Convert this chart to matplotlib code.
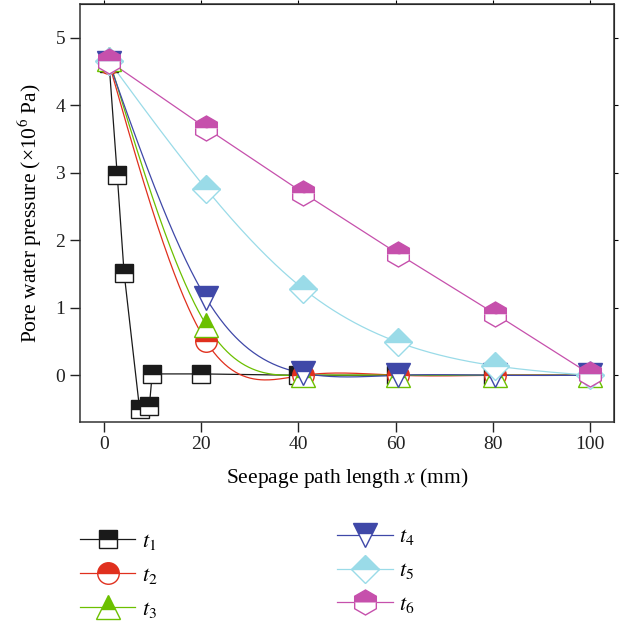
import numpy as np
import matplotlib
matplotlib.use("Agg")
import matplotlib.pyplot as plt
from matplotlib.lines import Line2D

plt.rcParams["font.family"] = ["Liberation Serif", "DejaVu Serif"]
plt.rcParams["mathtext.fontset"] = "stix"

# pore water pressure (x10^6 Pa) along the seepage path, one series per time step
x_t1 = [1, 2.7, 4.1, 7.3, 9.3, 9.9, 20, 40, 60, 80, 100]
p_t1 = [4.63, 2.96, 1.52, -0.50, -0.46, 0.02, 0.02, 0.0, 0.0, 0.0, 0.0]
x_rest = [1, 21, 41, 60.5, 80.5, 100]
p_t2 = [4.62, 0.50, 0.0, 0.0, 0.0, 0.0]
p_t3 = [4.68, 0.75, 0.0, 0.0, 0.0, 0.0]
p_t4 = [4.63, 1.14, 0.03, 0.0, 0.0, 0.0]
p_t5 = [4.65, 2.76, 1.28, 0.49, 0.14, 0.0]
p_t6 = [4.65, 3.66, 2.70, 1.80, 0.91, 0.02]

labels = ["$t_1$", "$t_2$", "$t_3$", "$t_4$", "$t_5$", "$t_6$"]
colors = ["#1a1a1a", "#e0301e", "#6cc000", "#3f48a8", "#9adbe8", "#c650ac"]
markers = ["s", "o", "^", "v", "D", "h"]
msizes = [13.5, 15.5, 17.5, 17.5, 14, 18]


def natural_spline(xs, ys, n=400):
    """Natural cubic spline through the given points, for a smooth curve."""
    xs = np.asarray(xs, float)
    ys = np.asarray(ys, float)
    k = len(xs)
    h = np.diff(xs)
    a = np.zeros((k, k))
    b = np.zeros(k)
    a[0, 0] = a[-1, -1] = 1.0
    for i in range(1, k - 1):
        a[i, i - 1] = h[i - 1]
        a[i, i] = 2 * (h[i - 1] + h[i])
        a[i, i + 1] = h[i]
        b[i] = 6 * ((ys[i + 1] - ys[i]) / h[i] - (ys[i] - ys[i - 1]) / h[i - 1])
    m = np.linalg.solve(a, b)
    xx = np.linspace(xs[0], xs[-1], n)
    j = np.clip(np.searchsorted(xs, xx) - 1, 0, k - 2)
    t0 = xx - xs[j]
    t1 = xs[j + 1] - xx
    yy = (m[j] * t1**3 + m[j + 1] * t0**3) / (6 * h[j]) \
        + (ys[j] / h[j] - m[j] * h[j] / 6) * t1 \
        + (ys[j + 1] / h[j] - m[j + 1] * h[j] / 6) * t0
    return xx, yy


series = [
    (x_t1, p_t1, False),
    (x_rest, p_t2, True),
    (x_rest, p_t3, True),
    (x_rest, p_t4, True),
    (x_rest, p_t5, True),
    (x_rest, p_t6, False),
]

fig = plt.figure(figsize=(6.24, 6.25), dpi=100)
ax = fig.add_axes([0.128, 0.325, 0.856, 0.669])

handles = []
for (xs, ys, smooth), c, mk, ms, lab in zip(series, colors, markers, msizes, labels):
    if smooth:
        cx, cy = natural_spline(xs, ys)
    else:
        cx, cy = xs, ys
    ax.plot(cx, cy, color=c, lw=0.9, zorder=2)
    ax.plot(xs, ys, ls="none", marker=mk, ms=ms, color=c, mec=c, mew=1.0,
            fillstyle="top", markerfacecoloralt="white", zorder=3)
    handles.append(Line2D([], [], color=c, lw=0.9, marker=mk, ms=ms, mec=c,
                          mew=1.0, fillstyle="top", markerfacecoloralt="white",
                          label=lab))

ax.set_xlim(-5, 105)
ax.set_ylim(-0.69, 5.5)
ax.set_xticks([0, 20, 40, 60, 80, 100])
ax.set_yticks([0, 1, 2, 3, 4, 5])
ax.tick_params(direction="out", length=7, width=1.0, labelsize=14, colors="#222222")
for sp in ax.spines.values():
    sp.set_linewidth(1.1)
    sp.set_color("#333333")

top = ax.secondary_xaxis("top")
top.set_xticks([0, 20, 40, 60, 80, 100])
top.tick_params(direction="out", length=3, labeltop=False)
right = ax.secondary_yaxis("right")
right.set_yticks([0, 1, 2, 3, 4, 5])
right.tick_params(direction="out", length=3, labelright=False)

ax.set_xlabel("Seepage path length $\\it{x}$ (mm)", fontsize=15.5, labelpad=9)
ax.set_ylabel("Pore water pressure (\u00d710$^{6}$ Pa)", fontsize=15.5, labelpad=8)

leg_kw = dict(frameon=False, fontsize=16, numpoints=1, handlelength=2.5,
              handletextpad=0.3, labelspacing=0.6, borderpad=0,
              borderaxespad=0, loc="upper left")
fig.legend(handles=handles[:3], bbox_to_anchor=(0.128, 0.150), **leg_kw)
fig.legend(handles=handles[3:], bbox_to_anchor=(0.54, 0.157), **leg_kw)

fig.savefig("out.png", dpi=100)
